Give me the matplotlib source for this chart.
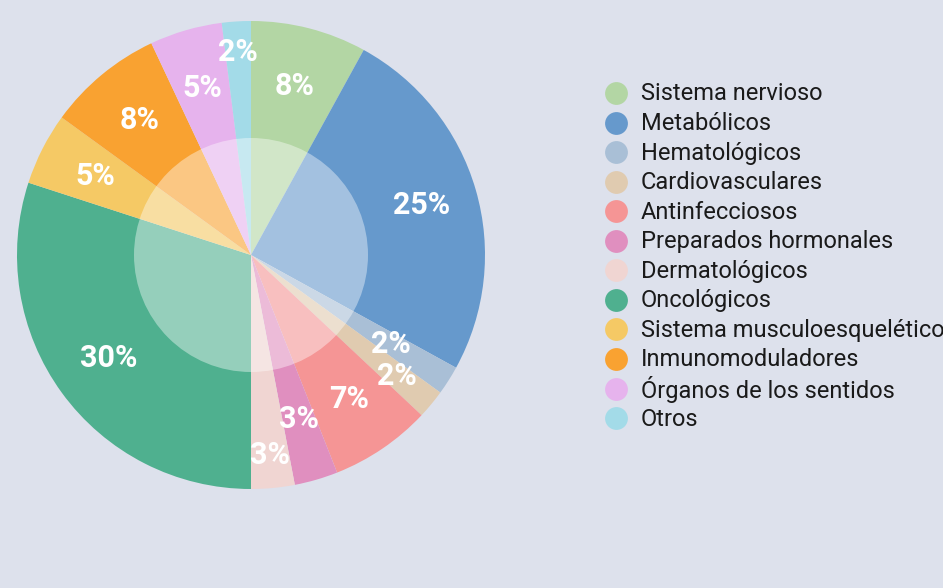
import matplotlib
matplotlib.use("Agg")
import matplotlib.pyplot as plt
import numpy as np

plt.rcParams['font.family'] = ['Roboto', 'DejaVu Sans']

# data
categories = ["Sistema nervioso", "Metabólicos", "Hematológicos", "Cardiovasculares",
              "Antinfecciosos", "Preparados hormonales", "Dermatológicos", "Oncológicos",
              "Sistema musculoesquelético", "Inmunomoduladores", "Órganos de los sentidos", "Otros"]
shares = [8, 25, 2, 2, 7, 3, 3, 30, 5, 8, 5, 2]
colors = ["#b3d6a4", "#6699cc", "#a9bfd6", "#e0cbb0", "#f59595", "#e08fbf",
          "#f0d5d2", "#4fb08f", "#f5c965", "#f9a231", "#e6b3ed", "#a3dbe8"]

# label radius (fraction of pie radius), small slices pushed around to avoid overlap
label_r = [0.745, 0.76, 0.71, 0.81, 0.745, 0.73, 0.86, 0.75, 0.745, 0.75, 0.745, 0.87]

bg = "#dde1ec"
W, H = 943, 588
fig = plt.figure(figsize=(W / 100, H / 100), dpi=100, facecolor=bg)

# pie axes: center at (251, 255) px, radius 234 px
cx, cy, rpx, half = 251, 255, 234, 250
ax = fig.add_axes([(cx - half) / W, (H - cy - half) / H, 2 * half / W, 2 * half / H])
ax.set_facecolor(bg)

wedges, _ = ax.pie(shares, colors=colors, startangle=90, counterclock=False,
                   radius=1, wedgeprops=dict(linewidth=0))
ax.axis('off')
lim = half / rpx
ax.set_xlim(-lim, lim)
ax.set_ylim(-lim, lim)
ax.set_aspect('equal')

# translucent inner disc
ax.add_patch(plt.Circle((0, 0), 0.5, facecolor="white", alpha=0.4, linewidth=0, zorder=3))

total = sum(shares)
cum = 0
for v, r in zip(shares, label_r):
    mid = (cum + v / 2) / total
    ang = np.deg2rad(90 - mid * 360)
    ax.text(r * np.cos(ang), r * np.sin(ang), f"{v}%", ha='center', va='center',
            color='white', fontsize=22, fontweight='bold', zorder=5)
    cum += v

# legend drawn in pixel coordinates
lax = fig.add_axes([0, 0, 1, 1])
lax.set_xlim(0, W)
lax.set_ylim(H, 0)
lax.axis('off')
y0, dy = 93, 29.55
for i, (name, c) in enumerate(zip(categories, colors)):
    y = y0 + i * dy
    lax.scatter([616], [y], s=270, color=c, linewidths=0)
    lax.text(641, y + 1, name, ha='left', va='center', fontsize=17, color='#1a1a1a')

fig.savefig("out.png", dpi=100, facecolor=bg)
